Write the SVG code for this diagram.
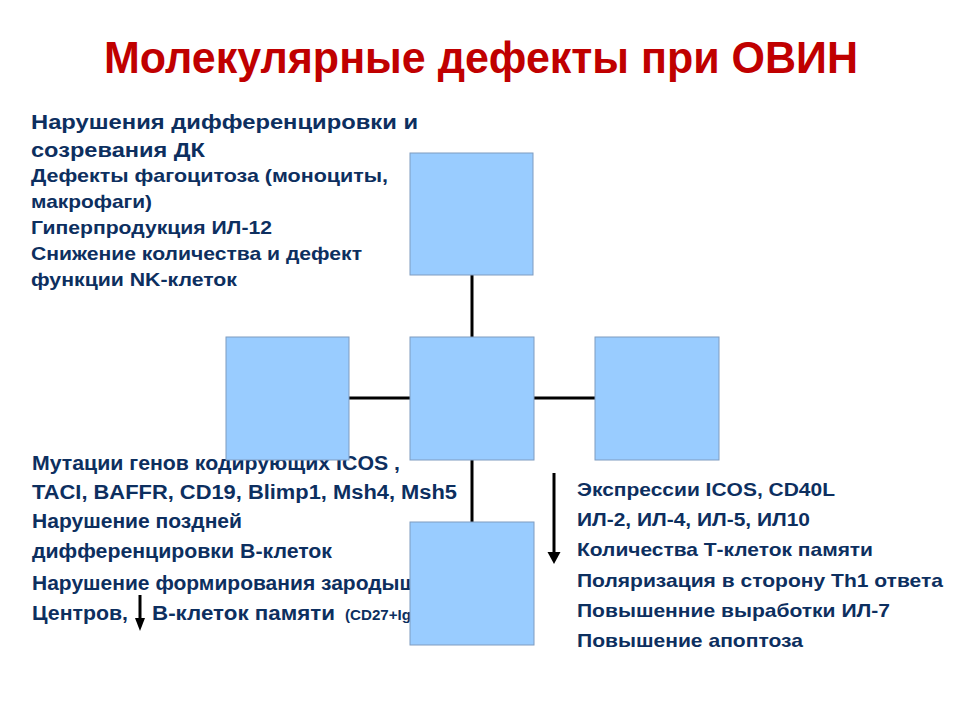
<svg xmlns="http://www.w3.org/2000/svg" width="960" height="720" viewBox="0 0 960 720">
<style>
.t{font-family:"Liberation Sans",Arial,sans-serif;font-weight:bold;fill:#0d2f5f}
.b{font-size:21px}
.s{font-size:18.5px}
.m{font-size:19.5px}
.box{fill:#99ccff;stroke:#7f9cc0;stroke-width:1}
.ln{stroke:#000;stroke-width:3;fill:none}
.title{font-family:"Liberation Sans",Arial,sans-serif;font-weight:bold;font-size:45px;fill:#c00000}
</style>
<rect width="960" height="720" fill="#fff"/>
<text class="title" x="104" y="73" textLength="754" lengthAdjust="spacingAndGlyphs">Молекулярные дефекты при ОВИН</text>
<g id="text-top-left">
<text class="t b" x="31" y="129" textLength="387" lengthAdjust="spacingAndGlyphs">Нарушения дифференцировки и</text>
<text class="t b" x="31" y="157" textLength="174" lengthAdjust="spacingAndGlyphs">созревания ДК</text>
<text class="t s" x="31" y="182" textLength="357" lengthAdjust="spacingAndGlyphs">Дефекты фагоцитоза (моноциты,</text>
<text class="t s" x="31" y="208" textLength="121" lengthAdjust="spacingAndGlyphs">макрофаги)</text>
<text class="t s" x="31" y="234" textLength="241" lengthAdjust="spacingAndGlyphs">Гиперпродукция ИЛ-12</text>
<text class="t s" x="31" y="260" textLength="331" lengthAdjust="spacingAndGlyphs">Снижение количества и дефект</text>
<text class="t s" x="31" y="286" textLength="206" lengthAdjust="spacingAndGlyphs">функции NK-клеток</text>
</g>
<g id="text-bottom-left">
<text class="t m" x="32" y="470" textLength="368" lengthAdjust="spacingAndGlyphs">Мутации генов кодирующих ICOS ,</text>
<text class="t m" x="32" y="499" textLength="425" lengthAdjust="spacingAndGlyphs">TACI, BAFFR,  CD19, Blimp1, Msh4, Msh5</text>
<text class="t m" x="32" y="528" textLength="210" lengthAdjust="spacingAndGlyphs">Нарушение поздней</text>
<text class="t m" x="32" y="558" textLength="300" lengthAdjust="spacingAndGlyphs">дифференцировки В-клеток</text>
<text class="t m" x="32" y="590" textLength="385" lengthAdjust="spacingAndGlyphs">Нарушение формирования зародыш</text>
<text class="t m" x="32" y="620" textLength="96" lengthAdjust="spacingAndGlyphs">Центров,</text>
<text class="t m" x="152" y="620" textLength="183" lengthAdjust="spacingAndGlyphs">В-клеток памяти</text>
<text class="t" x="345" y="620" font-size="15" textLength="66" lengthAdjust="spacingAndGlyphs">(CD27+Ig</text>
</g>
<g id="text-right">
<text class="t s" x="577" y="496" textLength="258" lengthAdjust="spacingAndGlyphs">Экспрессии ICOS, CD40L</text>
<text class="t s" x="577" y="526" textLength="233" lengthAdjust="spacingAndGlyphs">ИЛ-2, ИЛ-4, ИЛ-5, ИЛ10</text>
<text class="t s" x="577" y="556" textLength="296" lengthAdjust="spacingAndGlyphs">Количества Т-клеток памяти</text>
<text class="t s" x="577" y="587" textLength="366" lengthAdjust="spacingAndGlyphs">Поляризация в сторону Th1 ответа</text>
<text class="t s" x="577" y="617" textLength="313" lengthAdjust="spacingAndGlyphs">Повышенние выработки ИЛ-7</text>
<text class="t s" x="577" y="647" textLength="226" lengthAdjust="spacingAndGlyphs">Повышение апоптоза</text>
</g>
<g id="connectors">
<line class="ln" x1="472" y1="275" x2="472" y2="337"/>
<line class="ln" x1="349" y1="398" x2="410" y2="398"/>
<line class="ln" x1="534" y1="398" x2="595" y2="398"/>
<line class="ln" x1="472" y1="460" x2="472" y2="522"/>
</g>
<g id="arrows">
<line class="ln" x1="554" y1="473" x2="554" y2="553"/>
<polygon points="547.5,552 560.5,552 554,564" fill="#000"/>
<line class="ln" x1="140" y1="595" x2="140" y2="619"/>
<polygon points="135,618 145,618 140,631" fill="#000"/>
</g>
<g id="node-top"><rect class="box" x="410" y="153" width="123" height="122"/></g>
<g id="node-left"><rect class="box" x="226" y="337" width="123" height="123"/></g>
<g id="node-center"><rect class="box" x="410" y="337" width="124" height="123"/></g>
<g id="node-right"><rect class="box" x="595" y="337" width="124" height="123"/></g>
<g id="node-bottom"><rect class="box" x="410" y="522" width="124" height="123"/></g>
</svg>
